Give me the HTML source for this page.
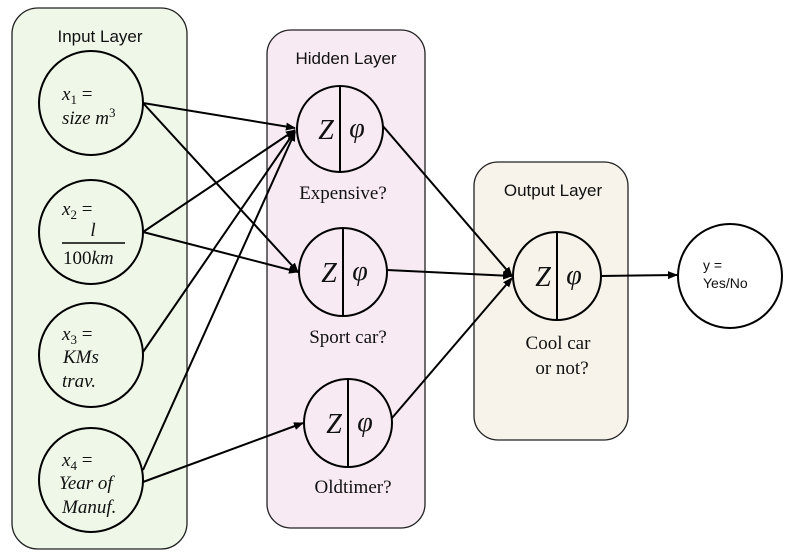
<!DOCTYPE html>
<html><head><meta charset="utf-8"><style>
html,body{margin:0;padding:0;background:#fff;}
svg{display:block;}
.lbl{font-family:"Liberation Sans",sans-serif;font-size:17px;fill:#111;}
.ser{font-family:"Liberation Serif",serif;font-size:19px;fill:#111;}
.math{font-family:"Liberation Serif",serif;font-style:italic;font-size:19px;fill:#111;}
.big{font-family:"Liberation Serif",serif;font-style:italic;font-size:28px;fill:#111;}
</style></head><body>
<svg width="790" height="553" viewBox="0 0 790 553">
<defs><marker id="ah" markerWidth="10" markerHeight="8" refX="9" refY="4" orient="auto" markerUnits="userSpaceOnUse"><path d="M0,0 L10,4 L0,8 z" fill="#000"/></marker></defs>
<g>
<rect x="12" y="8" width="175" height="541" rx="26" fill="#eef7e8" stroke="#222" stroke-width="1.3"/>
<text class="lbl" x="100" y="42" text-anchor="middle">Input Layer</text>
</g>
<g>
<rect x="267" y="30" width="158" height="498" rx="24" fill="#f7eaf3" stroke="#222" stroke-width="1.3"/>
<text class="lbl" x="346" y="64" text-anchor="middle">Hidden Layer</text>
</g>
<g>
<rect x="474" y="162" width="154" height="278" rx="24" fill="#f7f2ea" stroke="#222" stroke-width="1.3"/>
<text class="lbl" x="553" y="196" text-anchor="middle">Output Layer</text>
</g>
<g stroke="#000" stroke-width="2" marker-end="url(#ah)">
<line x1="143" y1="103" x2="295" y2="128"/>
<line x1="143" y1="103" x2="298" y2="272"/>
<line x1="143" y1="232" x2="295" y2="130"/>
<line x1="143" y1="232" x2="298" y2="272"/>
<line x1="143" y1="352" x2="295" y2="131"/>
<line x1="143" y1="470" x2="295" y2="132"/>
<line x1="143" y1="482" x2="303" y2="423"/>
<line x1="382" y1="125" x2="512" y2="276"/>
<line x1="387" y1="270" x2="512" y2="276"/>
<line x1="392" y1="418" x2="512" y2="278"/>
<line x1="601" y1="276" x2="677" y2="275"/>
</g>
<g fill="none" stroke="#000" stroke-width="2">
<circle cx="91" cy="103" r="52" fill="#eef7e8"/>
<circle cx="91" cy="232" r="52" fill="#eef7e8"/>
<circle cx="91" cy="355" r="52" fill="#eef7e8"/>
<circle cx="91" cy="480" r="52" fill="#eef7e8"/>
</g>
<g>
<text class="math" x="62" y="100">x<tspan style="font-size:13px;font-style:normal" dy="4">1</tspan><tspan dy="-4" style="font-style:normal"> =</tspan></text>
<text class="math" x="62" y="124">size m<tspan style="font-size:13px;font-style:normal" dy="-7">3</tspan></text>
<text class="math" x="62" y="215">x<tspan style="font-size:13px;font-style:normal" dy="4">2</tspan><tspan dy="-4" style="font-style:normal"> =</tspan></text>
<text class="math" x="93" y="236" text-anchor="middle">l</text>
<line x1="62" y1="243" x2="125" y2="243" stroke="#000" stroke-width="1.5"/>
<text class="math" x="63" y="264"><tspan style="font-style:normal">100</tspan>km</text>
<text class="math" x="62" y="340">x<tspan style="font-size:13px;font-style:normal" dy="4">3</tspan><tspan dy="-4" style="font-style:normal"> =</tspan></text>
<text class="math" x="63" y="363">KMs</text>
<text class="math" x="62" y="387">trav.</text>
<text class="math" x="62" y="466">x<tspan style="font-size:13px;font-style:normal" dy="4">4</tspan><tspan dy="-4" style="font-style:normal"> =</tspan></text>
<text class="math" x="59" y="489">Year of</text>
<text class="math" x="62" y="513">Manuf.</text>
</g>
<g>
<circle cx="340" cy="129" r="43" fill="#f7eaf3" stroke="#000" stroke-width="2"/>
<line x1="340" y1="86" x2="340" y2="172" stroke="#000" stroke-width="2"/>
<text class="big" x="326" y="139" text-anchor="middle">Z</text>
<text class="big" x="357" y="137" text-anchor="middle">φ</text>
<text class="ser" x="343" y="199" text-anchor="middle">Expensive?</text>
</g>
<g>
<circle cx="343" cy="272" r="44" fill="#f7eaf3" stroke="#000" stroke-width="2"/>
<line x1="343" y1="228" x2="343" y2="316" stroke="#000" stroke-width="2"/>
<text class="big" x="329" y="282" text-anchor="middle">Z</text>
<text class="big" x="360" y="280" text-anchor="middle">φ</text>
<text class="ser" x="348" y="343" text-anchor="middle">Sport car?</text>
</g>
<g>
<circle cx="348" cy="423" r="44" fill="#f7eaf3" stroke="#000" stroke-width="2"/>
<line x1="348" y1="379" x2="348" y2="467" stroke="#000" stroke-width="2"/>
<text class="big" x="334" y="433" text-anchor="middle">Z</text>
<text class="big" x="365" y="431" text-anchor="middle">φ</text>
<text class="ser" x="353" y="493" text-anchor="middle">Oldtimer?</text>
</g>
<g>
<circle cx="557" cy="276" r="44" fill="#f7f2ea" stroke="#000" stroke-width="2"/>
<line x1="557" y1="232" x2="557" y2="320" stroke="#000" stroke-width="2"/>
<text class="big" x="543" y="286" text-anchor="middle">Z</text>
<text class="big" x="574" y="284" text-anchor="middle">φ</text>
<text class="ser" x="558" y="349" text-anchor="middle">Cool car</text>
<text class="ser" x="562" y="374" text-anchor="middle">or not?</text>
</g>
<g>
<circle cx="730" cy="276" r="52" fill="#fff" stroke="#000" stroke-width="2"/>
<text x="703" y="270" font-family="Liberation Sans,sans-serif" font-size="14" fill="#111">y  =</text>
<text x="703" y="288" font-family="Liberation Sans,sans-serif" font-size="14" fill="#111">Yes/No</text>
</g>
</svg>
</body></html>
